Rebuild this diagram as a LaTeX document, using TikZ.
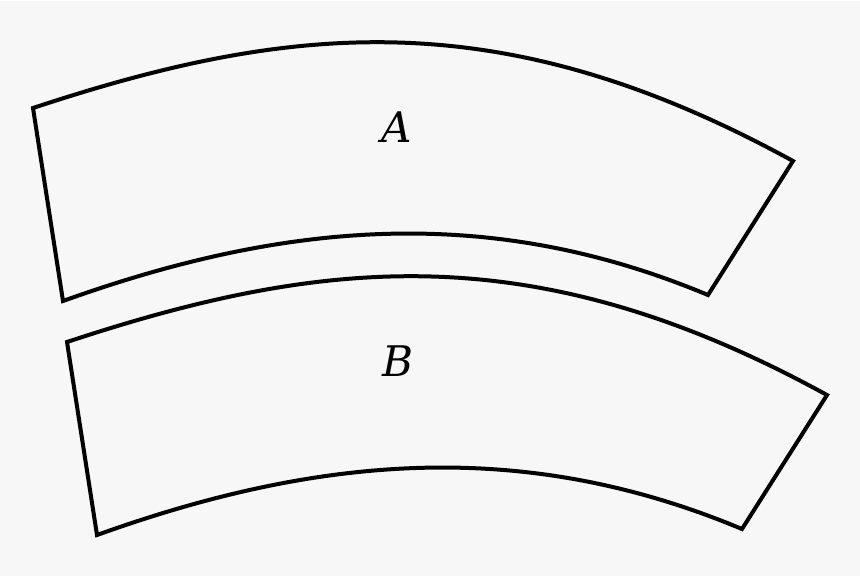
\documentclass[tikz,border=0pt]{standalone}
\usepackage{fontspec}
\setmainfont{DejaVu Serif}
\definecolor{paper}{HTML}{F7F7F7}
\tikzset{
	piece/.style={line width=0.8mm, color=black},
	tag/.style={font=\itshape\fontsize{24}{28}\selectfont, inner sep=0pt}
}

\begin{document}
\begin{tikzpicture}[x=0.02cm, y=-0.02cm]
			%%%%% START %%%%%
			
			\fill[paper] (0, 0) rectangle (860, 575);
			
			% upper piece
			\draw[piece] (33, 107) .. controls (293, 21) and (503, 1) .. (793, 160)
				-- (708, 294) .. controls (488, 202) and (283, 221) .. (63, 300) -- cycle;
			
			% lower piece, same shape moved down
			\begin{scope}[shift={(34, 234)}]
				\draw[piece] (33, 107) .. controls (293, 21) and (503, 1) .. (793, 160)
					-- (708, 294) .. controls (488, 202) and (283, 221) .. (63, 300) -- cycle;
			\end{scope}
			
			\node[tag] (labelA) at (397, 126) {A};
			\node[tag] (labelB) at (398, 360) {B};
			
			%%%%% END %%%%%
		\end{tikzpicture}
\end{document}
